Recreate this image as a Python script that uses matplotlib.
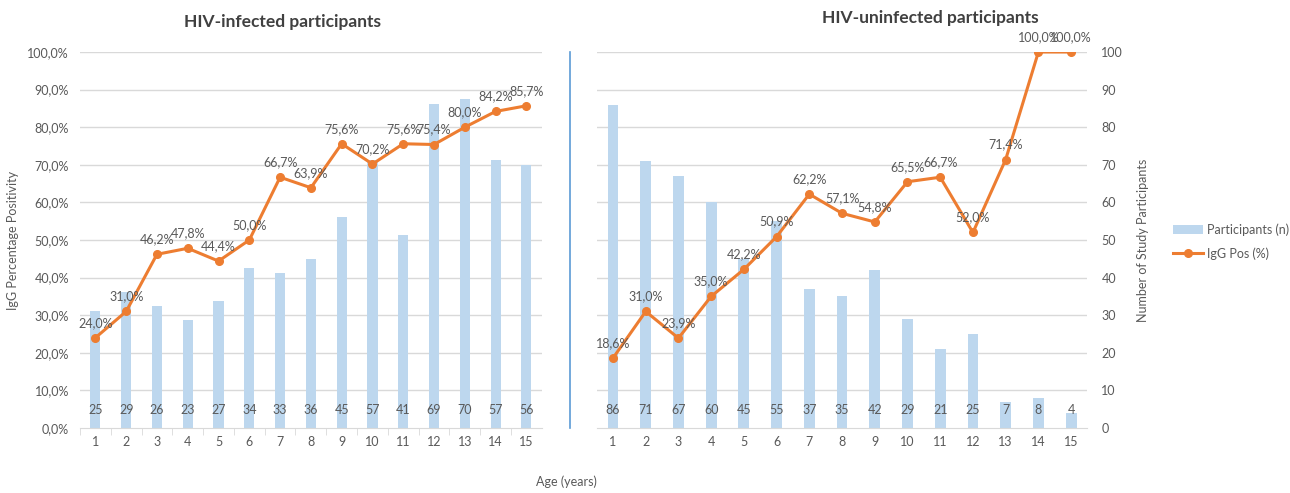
import matplotlib.pyplot as plt
from matplotlib.lines import Line2D
from matplotlib.patches import Patch

plt.rcParams['font.family'] = ['Lato', 'DejaVu Sans']

# Age groups and data
ages = list(range(1, 16))
infected_n = [25, 29, 26, 23, 27, 34, 33, 36, 45, 57, 41, 69, 70, 57, 56]
infected_pct = [24.0, 31.0, 46.2, 47.8, 44.4, 50.0, 66.7, 63.9, 75.6, 70.2, 75.6, 75.4, 80.0, 84.2, 85.7]
uninfected_n = [86, 71, 67, 60, 45, 55, 37, 35, 42, 29, 21, 25, 7, 8, 4]
uninfected_pct = [18.6, 31.0, 23.9, 35.0, 42.2, 50.9, 62.2, 57.1, 54.8, 65.5, 66.7, 52.0, 71.4, 100.0, 100.0]

BAR_C = '#BDD7EE'
LINE_C = '#ED7D31'
TXT_C = '#595959'
GRID_C = '#D9D9D9'
FS = 9


def pct_fmt(v):
    return f"{v:.1f}%".replace('.', ',')


def style_axis(ax):
    for s in ax.spines.values():
        s.set_visible(False)
    ax.tick_params(colors=TXT_C, labelsize=FS, length=0)


def draw_panel(ax_line, ax_bar, n, pct, bar_max):
    ax_bar.bar(ages, n, width=0.33, color=BAR_C, zorder=1)
    ax_bar.set_ylim(0, bar_max)
    for x, v in zip(ages, n):
        ax_bar.annotate(str(v), (x, 0), xytext=(0, 12), textcoords='offset pixels',
                        ha='center', va='bottom', fontsize=FS, color=TXT_C)

    ax_line.plot(ages, pct, color=LINE_C, lw=2.2, marker='o', ms=5.5, zorder=5)
    ax_line.set_ylim(0, 100)
    ax_line.set_xlim(0.5, 15.5)
    for x, v in zip(ages, pct):
        ax_line.annotate(pct_fmt(v), (x, v), xytext=(0, 9), textcoords='offset pixels',
                         ha='center', va='bottom', fontsize=FS, color=TXT_C,
                         annotation_clip=False, zorder=6)
    ax_line.set_zorder(ax_bar.get_zorder() + 1)
    ax_line.patch.set_visible(False)
    ax_line.set_xticks(ages)


fig = plt.figure(figsize=(12.9, 4.93), dpi=100)

# ---- left panel: HIV-infected ----
axL = fig.add_axes([0.062, 0.1318, 0.358, 0.7627])
axL_bar = axL.twinx()
axL_bar.set_zorder(0)
axL.set_zorder(1)
draw_panel(axL, axL_bar, infected_n, infected_pct, 80)
axL.set_yticks(range(0, 101, 10))
axL.set_yticklabels([pct_fmt(v) for v in range(0, 101, 10)])
for y in range(10, 101, 10):
    axL_bar.axhline(y * 0.8, color=GRID_C, lw=1, zorder=0)
axL_bar.set_yticks([])
style_axis(axL)
style_axis(axL_bar)
axL.spines['bottom'].set_visible(True)
axL.spines['bottom'].set_color(GRID_C)
axL.set_xticks([x + 0.5 for x in ages[:-1]] + [0.5], minor=True)
axL.tick_params(axis='x', which='minor', length=5, color=GRID_C)
axL.tick_params(axis='x', which='major', pad=6)
axL.tick_params(axis='y', pad=8)
axL.set_ylabel('IgG Percentage Positivity', color=TXT_C, fontsize=FS, labelpad=6)

# ---- right panel: HIV-uninfected ----
axR = fig.add_axes([0.4625, 0.1318, 0.3805, 0.7627])
axR_bar = axR.twinx()
draw_panel(axR, axR_bar, uninfected_n, uninfected_pct, 100)
axR.set_yticks([])
axR_bar.set_yticks(range(0, 101, 10))
for y in range(10, 101, 10):
    axR_bar.axhline(y, color=GRID_C, lw=1, zorder=0)
style_axis(axR)
style_axis(axR_bar)
axR.spines['bottom'].set_visible(True)
axR.spines['bottom'].set_color(GRID_C)
axR.tick_params(axis='x', pad=6)
axR_bar.tick_params(axis='y', pad=10)
axR_bar.set_ylabel('Number of Study Participants', color=TXT_C, fontsize=FS, labelpad=10)

# panel titles
fig.text(283 / 1290, 1 - 22 / 493, 'HIV-infected participants', ha='center', va='center',
         fontsize=12.5, fontweight='bold', color='#404040')
fig.text(930 / 1290, 1 - 18 / 493, 'HIV-uninfected participants', ha='center', va='center',
         fontsize=12.5, fontweight='bold', color='#404040')

# divider line between panels
fig.add_artist(Line2D([570 / 1290, 570 / 1290], [1 - 52 / 493, 1 - 428 / 493],
                      color='#5B9BD5', lw=1.2))

fig.text(566 / 1290, 1 - 482 / 493, 'Age (years)', ha='center', va='center',
         fontsize=FS, color=TXT_C)

handles = [Patch(facecolor=BAR_C, edgecolor='none'),
           Line2D([], [], color=LINE_C, lw=2.2, marker='o', ms=5.5)]
fig.legend(handles, ['Participants (n)', 'IgG Pos (%)'], loc='upper left',
           bbox_to_anchor=(1162 / 1290, 1 - 212 / 493), frameon=False,
           fontsize=FS, labelcolor=TXT_C, handlelength=2.4, handletextpad=0.3,
           labelspacing=0.9)

fig.savefig('out.png', dpi=100)
